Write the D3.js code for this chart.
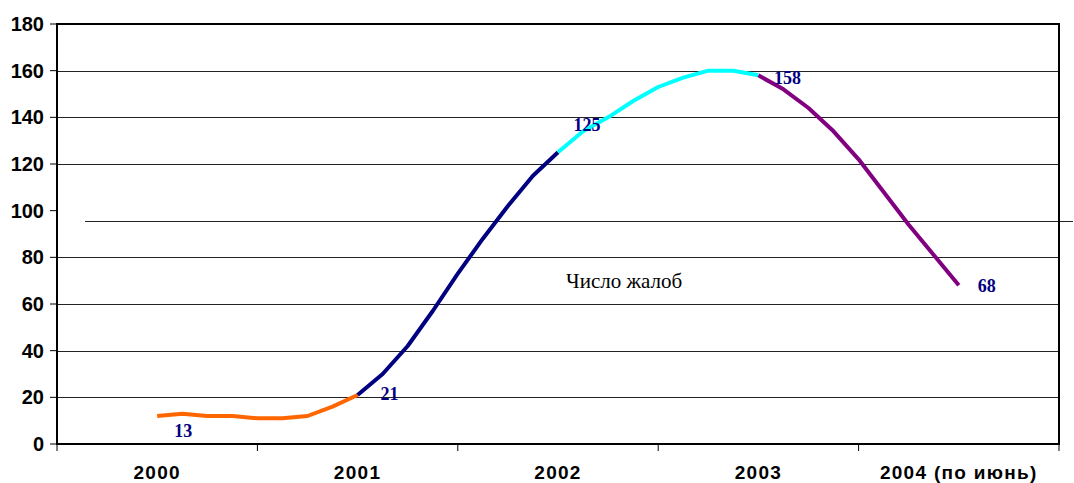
<!DOCTYPE html>
<meta charset="utf-8">
<head>
<style>
  body { margin: 0; background: #fff; }
  svg { display: block; }
  .ylab { font: bold 20px "Liberation Sans", Arial, sans-serif; fill: #000; }
  .xlab { font: bold 19px "Liberation Sans", Arial, sans-serif; fill: #000; letter-spacing: 1.3px; }
  .dlab { font: bold 18px "Liberation Serif", "Times New Roman", serif; fill: #000080; }
  .note { font: 21px "Liberation Serif", "Times New Roman", serif; fill: #000; }
</style>
</head>
<body>
<script src="https://cdn.jsdelivr.net/npm/d3@7"></script>
<script>
 // categories on the x axis
 const years = ["2000", "2001", "2002", "2003", "2004 (по июнь)"];
 const yTicks = [0, 20, 40, 60, 80, 100, 120, 140, 160, 180];

 // each piece runs from one year to the next, 8 steps per year
 const orangeVals = [12, 13, 12, 12, 11, 11, 12, 16, 21];
 const navyVals   = [21, 30, 42, 57, 73, 88, 102, 115, 125];
 const cyanVals   = [125, 134, 140, 147, 153, 157, 160, 160, 158];
 const purpleVals = [158, 152, 144, 134, 122, 108, 94, 81, 68];
 const pieceColors = ["#ff6600", "#000080", "#00ffff", "#800080"];

 // value labels: [year index, step, text, dx, dy]
 const valueLabels = [
     [0, 1, "13", 1, 23],
     [1, 0, "21", 32, 5],
     [2, 0, "125", 29, -21],
     [3, 0, "158", 29, 9],
     [4, 0, "68", 28, 7]
 ];
 const seriesName = "Число жалоб";
 const strayValue = 95.5; // odd line across the plot, the 100 grid line is gone

 const width = 1074, height = 483;
 const margin = {left: 57, right: 15, top: 24, bottom: 39};
 const x0 = margin.left, x1 = width - margin.right;
 const y0 = height - margin.bottom, y1 = margin.top;

 const svg = d3.select("body").append("svg")
               .attr("width", width)
               .attr("height", height);

 const x = d3.scaleLinear().domain([-0.5, years.length - 0.5]).range([x0, x1]);
 const y = d3.scaleLinear().domain([0, 180]).range([y0, y1]);

 // grid
 svg.append("g")
    .selectAll("line")
    .data(yTicks.filter(d => d > 0 && d < 180 && d !== 100))
    .join("line")
    .attr("x1", x0).attr("x2", x1)
    .attr("y1", d => Math.round(y(d)) + 0.5)
    .attr("y2", d => Math.round(y(d)) + 0.5)
    .attr("stroke", "#222")
    .attr("stroke-width", 1);

 svg.append("line")
    .attr("x1", x(-0.36)).attr("x2", width - 1)
    .attr("y1", Math.round(y(strayValue)) + 0.5)
    .attr("y2", Math.round(y(strayValue)) + 0.5)
    .attr("stroke", "#222");

 // frame
 svg.append("rect")
    .attr("x", x0).attr("y", y1)
    .attr("width", x1 - x0).attr("height", y0 - y1)
    .attr("fill", "none")
    .attr("stroke", "#000")
    .attr("stroke-width", 2);

 // y axis
 const yAxis = svg.append("g");
 yAxis.selectAll("line")
      .data(yTicks)
      .join("line")
      .attr("x1", x0 - 7).attr("x2", x0)
      .attr("y1", d => y(d)).attr("y2", d => y(d))
      .attr("stroke", "#000");
 yAxis.selectAll("text")
      .data(yTicks)
      .join("text")
      .attr("class", "ylab")
      .attr("x", x0 - 13)
      .attr("y", d => y(d) + 7)
      .attr("text-anchor", "end")
      .text(d => d);

 // x axis (category boundaries)
 const xAxis = svg.append("g");
 xAxis.selectAll("line")
      .data(d3.range(years.length + 1))
      .join("line")
      .attr("x1", d => x(d - 0.5)).attr("x2", d => x(d - 0.5))
      .attr("y1", y0).attr("y2", y0 + 7)
      .attr("stroke", "#000");
 xAxis.selectAll("text")
      .data(years)
      .join("text")
      .attr("class", "xlab")
      .attr("x", (d, i) => x(i))
      .attr("y", y0 + 35)
      .attr("text-anchor", "middle")
      .text(d => d);

 // line pieces
 const pieces = [orangeVals, navyVals, cyanVals, purpleVals];
 const line = d3.line()
                .x(d => x(d.t))
                .y(d => y(d.v));

 pieces.forEach((vals, i) => {
     const pts = vals.map((v, j) => ({t: i + j / 8, v: v}));
     svg.append("path")
        .datum(pts)
        .attr("d", line)
        .attr("fill", "none")
        .attr("stroke", pieceColors[i])
        .attr("stroke-width", 4)
        .attr("stroke-linejoin", "round");
 });

 function valueAt(i, j) {
     if (i < pieces.length) return pieces[i][j];
     return pieces[i - 1][8];
 }

 svg.append("g")
    .selectAll("text")
    .data(valueLabels)
    .join("text")
    .attr("class", "dlab")
    .attr("x", d => x(d[0] + d[1] / 8) + d[3])
    .attr("y", d => y(valueAt(d[0], d[1])) + d[4])
    .attr("text-anchor", "middle")
    .text(d => d[2]);

 svg.append("text")
    .attr("class", "note")
    .attr("x", 566)
    .attr("y", y(67))
    .text(seriesName);
</script>
</body>
